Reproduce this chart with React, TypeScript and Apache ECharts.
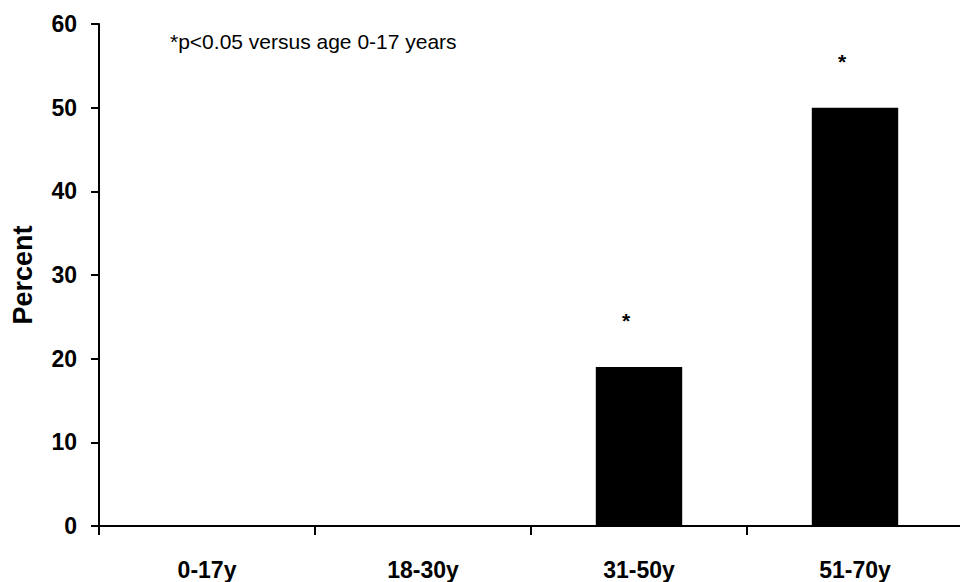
import React, { useEffect, useRef } from "react";
import * as echarts from "echarts";

const categories = ["0-17y", "18-30y", "31-50y", "51-70y"];
const percentValues = [0, 0, 19, 50];
const significant = [false, false, true, true];
const yTicks = { min: 0, max: 60, interval: 10 };
const yAxisTitle = "Percent";
const note = "*p<0.05 versus age 0-17 years";

export default function App() {
  const ref = useRef<HTMLDivElement>(null);
  useEffect(() => {
    document.body.style.margin = "0";
    if (!ref.current) return;
    const chart = echarts.init(ref.current, null, { renderer: "svg" });
    const font = "Liberation Sans, Arial, Helvetica, sans-serif";
    chart.setOption({
      animation: false,
      backgroundColor: "#ffffff",
      textStyle: { fontFamily: font },
      grid: {
        left: 99,
        width: 864,
        top: 24,
        bottom: 56,
        containLabel: false,
        outerBoundsMode: "none",
      },
      xAxis: {
        type: "category",
        data: categories,
        boundaryGap: true,
        axisLine: { show: true, lineStyle: { color: "#000", width: 2 } },
        axisTick: { show: true, alignWithLabel: false, length: 9, lineStyle: { color: "#000", width: 2 } },
        axisLabel: { color: "#000", fontWeight: "bold", fontSize: 23, margin: 32, fontFamily: font },
        splitLine: { show: false },
      },
      yAxis: {
        type: "value",
        min: yTicks.min,
        max: yTicks.max,
        interval: yTicks.interval,
        name: yAxisTitle,
        nameLocation: "middle",
        nameGap: 63,
        nameRotate: 90,
        nameTextStyle: { color: "#000", fontWeight: "bold", fontSize: 27, fontFamily: font },
        axisLine: { show: true, lineStyle: { color: "#000", width: 2 } },
        axisTick: { show: true, length: 8, lineStyle: { color: "#000", width: 2 } },
        axisLabel: { color: "#000", fontWeight: "bold", fontSize: 23, margin: 22, fontFamily: font },
        splitLine: { show: false },
      },
      series: [
        {
          type: "bar",
          data: percentValues.map((v, i) => ({
            value: v,
            label: {
              show: significant[i],
              position: "top",
              formatter: "*",
              color: "#000",
              fontSize: 21,
              fontWeight: "bold",
              fontFamily: font,
              distance: 5,
              offset: [-13, -31],
            },
          })),
          barWidth: "40%",
          itemStyle: { color: "#000" },
        },
      ],
      graphic: [
        {
          type: "text",
          left: 170,
          top: 31,
          style: { text: note, fill: "#000", fontSize: 21, fontFamily: font },
        },
      ],
    });
    return () => chart.dispose();
  }, []);
  return <div ref={ref} style={{ width: 960, height: 582 }} />;
}
